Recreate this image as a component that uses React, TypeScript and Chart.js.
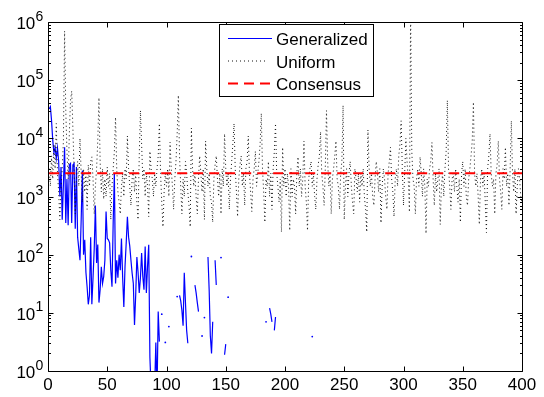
import React, { useEffect, useRef } from 'react';
import { Chart, registerables } from 'chart.js';

Chart.register(...registerables);

const FONT = '"Liberation Sans", Arial, Helvetica, sans-serif';

const seriesNames = ['Generalized', 'Uniform', 'Consensus'];

const uniform: number[] = [
  3000, 1500, 5000, 2000, 8000, 3000, 18000, 2500, 1200, 400,
  1500, 3000, 9000, 700000, 30000, 6000, 2000, 12000, 45000, 65000,
  15000, 3000, 500, 2000, 4000, 1500, 10000, 2500, 800, 3000,
  1200, 2500, 600, 3500, 1500, 4000, 4800, 2000, 500, 1500,
  3000, 9000, 50000, 4000, 1200, 3000, 900, 2000, 1000, 3200,
  1500, 2500, 400, 1500, 3000, 6000, 23000, 3000, 1200, 800,
  500, 1500, 2500, 1000, 3000, 2000, 11000, 3000, 1500, 700,
  2000, 3000, 1200, 2500, 800, 400, 5000, 30000, 8000, 2000,
  3000, 1000, 2500, 1500, 450, 6000, 3000, 2000, 1000, 2500,
  1500, 3000, 5000, 18000, 2500, 800, 300, 1200, 2500, 1500,
  3000, 1000, 8600, 3000, 1500, 600, 2000, 4000, 12000, 55000,
  5000, 1500, 500, 2000, 1000, 4000, 2500, 1200, 700, 300,
  15000, 3000, 1500, 2500, 1000, 500, 2000, 5000, 2500, 1200,
  3000, 400, 9000, 3000, 1500, 2500, 1000, 800, 360, 2000,
  3500, 5000, 2000, 1000, 2500, 500, 3000, 1500, 12000, 3000,
  1500, 2500, 600, 2000, 4000, 8000, 18000, 3000, 1200, 450,
  2000, 3500, 5000, 1500, 2500, 700, 3000, 4000, 11000, 2500,
  1200, 550, 2000, 3000, 6000, 1500, 2500, 4000, 8000, 27000,
  3000, 1200, 360, 2000, 1500, 4000, 1000, 2500, 600, 3000,
  6000, 18000, 2500, 1500, 800, 2000, 245, 7000, 1500, 3000,
  1000, 2500, 1500, 260, 3000, 1000, 2000, 1500, 500, 2500,
  4800, 1500, 3000, 1000, 2000, 9000, 1500, 800, 260, 2000,
  3000, 4000, 1500, 2500, 1000, 600, 2000, 3500, 5000, 13000,
  2500, 1500, 700, 3000, 30000, 4000, 1500, 2500, 500, 2000,
  3000, 5000, 9000, 2000, 1500, 600, 2500, 4000, 37000, 400,
  1500, 3000, 1000, 2500, 4000, 1500, 800, 500, 3000, 2000,
  1200, 2500, 800, 2500, 1500, 3000, 1000, 600, 245, 14000,
  3000, 1500, 2500, 1000, 700, 2000, 4000, 2500, 1200, 3000,
  350, 1500, 3000, 2000, 1000, 600, 2500, 4000, 7000, 2000,
  1200, 450, 2000, 3000, 1500, 5000, 8000, 20000, 3000, 700,
  2500, 10000, 4000, 2000, 540, 1500000, 6000, 2000, 1500, 500,
  2000, 3000, 1500, 4800, 2500, 1000, 3000, 1500, 230, 2000,
  1500, 3000, 4000, 8500, 2000, 700, 2500, 1200, 2000, 3000,
  330, 1500, 2500, 1000, 3000, 6000, 45000, 3000, 1500, 600,
  2000, 2500, 1200, 3000, 1500, 800, 2000, 360, 2500, 4000,
  1500, 3000, 1000, 700, 2000, 3000, 5000, 9000, 42000, 2500,
  1500, 2500, 1000, 330, 2000, 3000, 1500, 2500, 800, 240,
  3000, 5000, 12000, 2500, 1500, 2000, 500, 2500, 3500, 9000,
  2000, 1200, 600, 3000, 2000, 7000, 1500, 2500, 700, 3000,
  20000, 2500, 1200, 3000, 500, 1500, 3000, 2000, 1000, 800,
];

const generalized: (number | null)[] = [
  32000, 35000, 20000, 9300, 5600, 7000, 4500, 6800, 4000, 1000,
  3200, 400, 1600, 7000, 350, 2000, 320, 3500, 3700, 350,
  3500, 3700, 280, 3200, 200, 125, 80, 400, 2800, 100,
  180, 50, 28, 14, 20, 200, 14, 40, 125, 700,
  72, 150, 15, 25, 62, 32, 42, 80, 550, 190,
  180, 160, 54, 28, 350, 2500, 32, 80, 40, 100,
  54, 190, 40, 12.6, 63, 160, 450, 200, 140, 80,
  48, 32, 6.2, 20, 91, 50, 22, 40, 107, 42,
  25, 138, 22, 63, 148, 1.7, 0.5, null, null, 0.5,
  3.1, 0.4, 10.5, 3.2, null, 9.5, null, null, 3.1, null,
  null, 5.8, null, null, null, null, null, null, 19, null,
  20, 16, 11, 6, 49, 15, 5, 3, null, null,
  93, null, null, 30, 22, 15, 10.5, null, null, 4,
  null, 8.3, null, null, 91, 25, 4, 2, 7, null,
  80, 30, null, null, null, 89, null, null, 1.9, 2.9,
  null, 18.6, null, null, null, null, null, null, null, null,
  null, null, null, null, null, null, null, null, null, null,
  null, null, null, null, null, null, null, null, null, null,
  null, null, null, 7, null, null, 12, 9.5, 7, null,
  5, 8.5, null, null, null, null, null, null, null, null,
  null, null, null, null, null, null, null, null, null, null,
  null, null, null, null, null, null, null, null, null, null,
  null, null, 3.9,
];

const consensusX = [1, 400];
const consensus = [2500, 2500];

const xTicks = [0, 50, 100, 150, 200, 250, 300, 350, 400];
const yExponents = [0, 1, 2, 3, 4, 5, 6];

const matlabPlugin = {
  id: 'matlabAxes',
  afterDraw(chart: any) {
    const { ctx, chartArea: a, scales } = chart;
    const xs = scales.x;
    const ys = scales.y;
    const L = Math.round(a.left) + 0.5;
    const R = Math.round(a.right) + 0.5;
    const T = Math.round(a.top) + 0.5;
    const B = Math.round(a.bottom) + 0.5;
    ctx.save();
    ctx.strokeStyle = '#000';
    ctx.lineWidth = 1;
    ctx.setLineDash([]);
    ctx.beginPath();
    ctx.rect(L, T, R - L, B - T);
    for (const t of xTicks) {
      const px = Math.round(xs.getPixelForValue(t)) + 0.5;
      ctx.moveTo(px, B);
      ctx.lineTo(px, B - 5);
      ctx.moveTo(px, T);
      ctx.lineTo(px, T + 5);
    }
    for (const e of yExponents) {
      for (let m = 1; m < 10; m++) {
        if (e === yExponents[yExponents.length - 1] && m > 1) break;
        const py = Math.round(ys.getPixelForValue(m * Math.pow(10, e))) + 0.5;
        const len = m === 1 ? 5 : 2.5;
        ctx.moveTo(L, py);
        ctx.lineTo(L + len, py);
        ctx.moveTo(R, py);
        ctx.lineTo(R - len, py);
      }
    }
    ctx.stroke();

    // y tick labels with superscript exponents
    ctx.fillStyle = '#000';
    for (const e of yExponents) {
      const py = ys.getPixelForValue(Math.pow(10, e));
      ctx.font = `17px ${FONT}`;
      ctx.textAlign = 'right';
      ctx.textBaseline = 'alphabetic';
      ctx.fillText('10', 35.3, py + 7);
      ctx.font = `14px ${FONT}`;
      ctx.textAlign = 'left';
      ctx.fillText(String(e), 35.5, py - 1.5);
    }

    // legend
    const bx = 219.5, by = 24.5, bw = 154, bh = 72;
    ctx.fillStyle = '#fff';
    ctx.fillRect(bx, by, bw, bh);
    ctx.strokeStyle = '#000';
    ctx.lineWidth = 1;
    ctx.strokeRect(bx, by, bw, bh);
    const rows = [38.5, 61, 83.5];
    const sampleEnds = [272, 268, 272];
    chart.data.datasets.forEach((ds: any, i: number) => {
      const y = rows[i];
      ctx.save();
      ctx.strokeStyle = ds.borderColor;
      ctx.lineWidth = ds.borderWidth;
      ctx.setLineDash(ds.borderDash || []);
      ctx.beginPath();
      ctx.moveTo(228, y);
      ctx.lineTo(sampleEnds[i], y);
      ctx.stroke();
      ctx.restore();
      ctx.fillStyle = '#000';
      ctx.font = `17px ${FONT}`;
      ctx.textAlign = 'left';
      ctx.textBaseline = 'alphabetic';
      ctx.fillText(ds.label, 276, y + 6.5);
    });
    ctx.restore();
  },
};

export default function App() {
  const canvasRef = useRef<HTMLCanvasElement | null>(null);

  useEffect(() => {
    if (!canvasRef.current) return;
    const genData = generalized.map((v, i) => ({ x: i + 1, y: v }));
    const isolated = (i: number) =>
      generalized[i] != null &&
      (i === 0 || generalized[i - 1] == null) &&
      (i === generalized.length - 1 || generalized[i + 1] == null);

    const chart = new Chart(canvasRef.current, {
      type: 'line',
      data: {
        datasets: [
          {
            label: seriesNames[0],
            data: genData as any,
            borderColor: 'rgb(0,0,255)',
            backgroundColor: 'rgb(0,0,255)',
            borderWidth: 1.2,
            pointRadius: (c: any) => (isolated(c.dataIndex) ? 0.9 : 0),
            pointBorderWidth: 0,
            spanGaps: false,
            tension: 0,
            order: 2,
          },
          {
            label: seriesNames[1],
            data: uniform.map((v, i) => ({ x: i + 1, y: v })) as any,
            borderColor: '#111',
            borderWidth: 1,
            borderDash: [1, 3],
            pointRadius: 0,
            tension: 0,
            order: 1,
          },
          {
            label: seriesNames[2],
            data: consensus.map((v, i) => ({ x: consensusX[i], y: v })) as any,
            borderColor: 'rgb(255,0,0)',
            borderWidth: 2,
            borderDash: [10, 6],
            pointRadius: 0,
            tension: 0,
            order: 0,
          },
        ],
      },
      options: {
        animation: false,
        responsive: true,
        maintainAspectRatio: false,
        layout: { padding: { top: 22, right: 22, left: 0, bottom: 0 } },
        plugins: { legend: { display: false }, tooltip: { enabled: false } },
        scales: {
          x: {
            type: 'linear',
            min: 0,
            max: 400,
            position: 'bottom',
            grid: { drawOnChartArea: false, drawTicks: false },
            border: { display: false },
            ticks: {
              stepSize: 50,
              autoSkip: false,
              maxRotation: 0,
              padding: 4,
              color: '#000',
              font: { family: FONT, size: 17 },
            },
            afterFit: (s: any) => { s.height = 26; },
          },
          y: {
            type: 'logarithmic',
            min: 1,
            max: 1000000,
            grid: { drawOnChartArea: false, drawTicks: false },
            border: { display: false },
            ticks: { display: false },
            afterFit: (s: any) => { s.width = 48; },
          },
        },
      },
      plugins: [matlabPlugin],
    });
    return () => chart.destroy();
  }, []);

  return (
    <div style={{ position: 'absolute', left: 0, top: 0, width: 544, height: 397, background: '#fff' }}>
      <canvas ref={canvasRef} />
    </div>
  );
}
